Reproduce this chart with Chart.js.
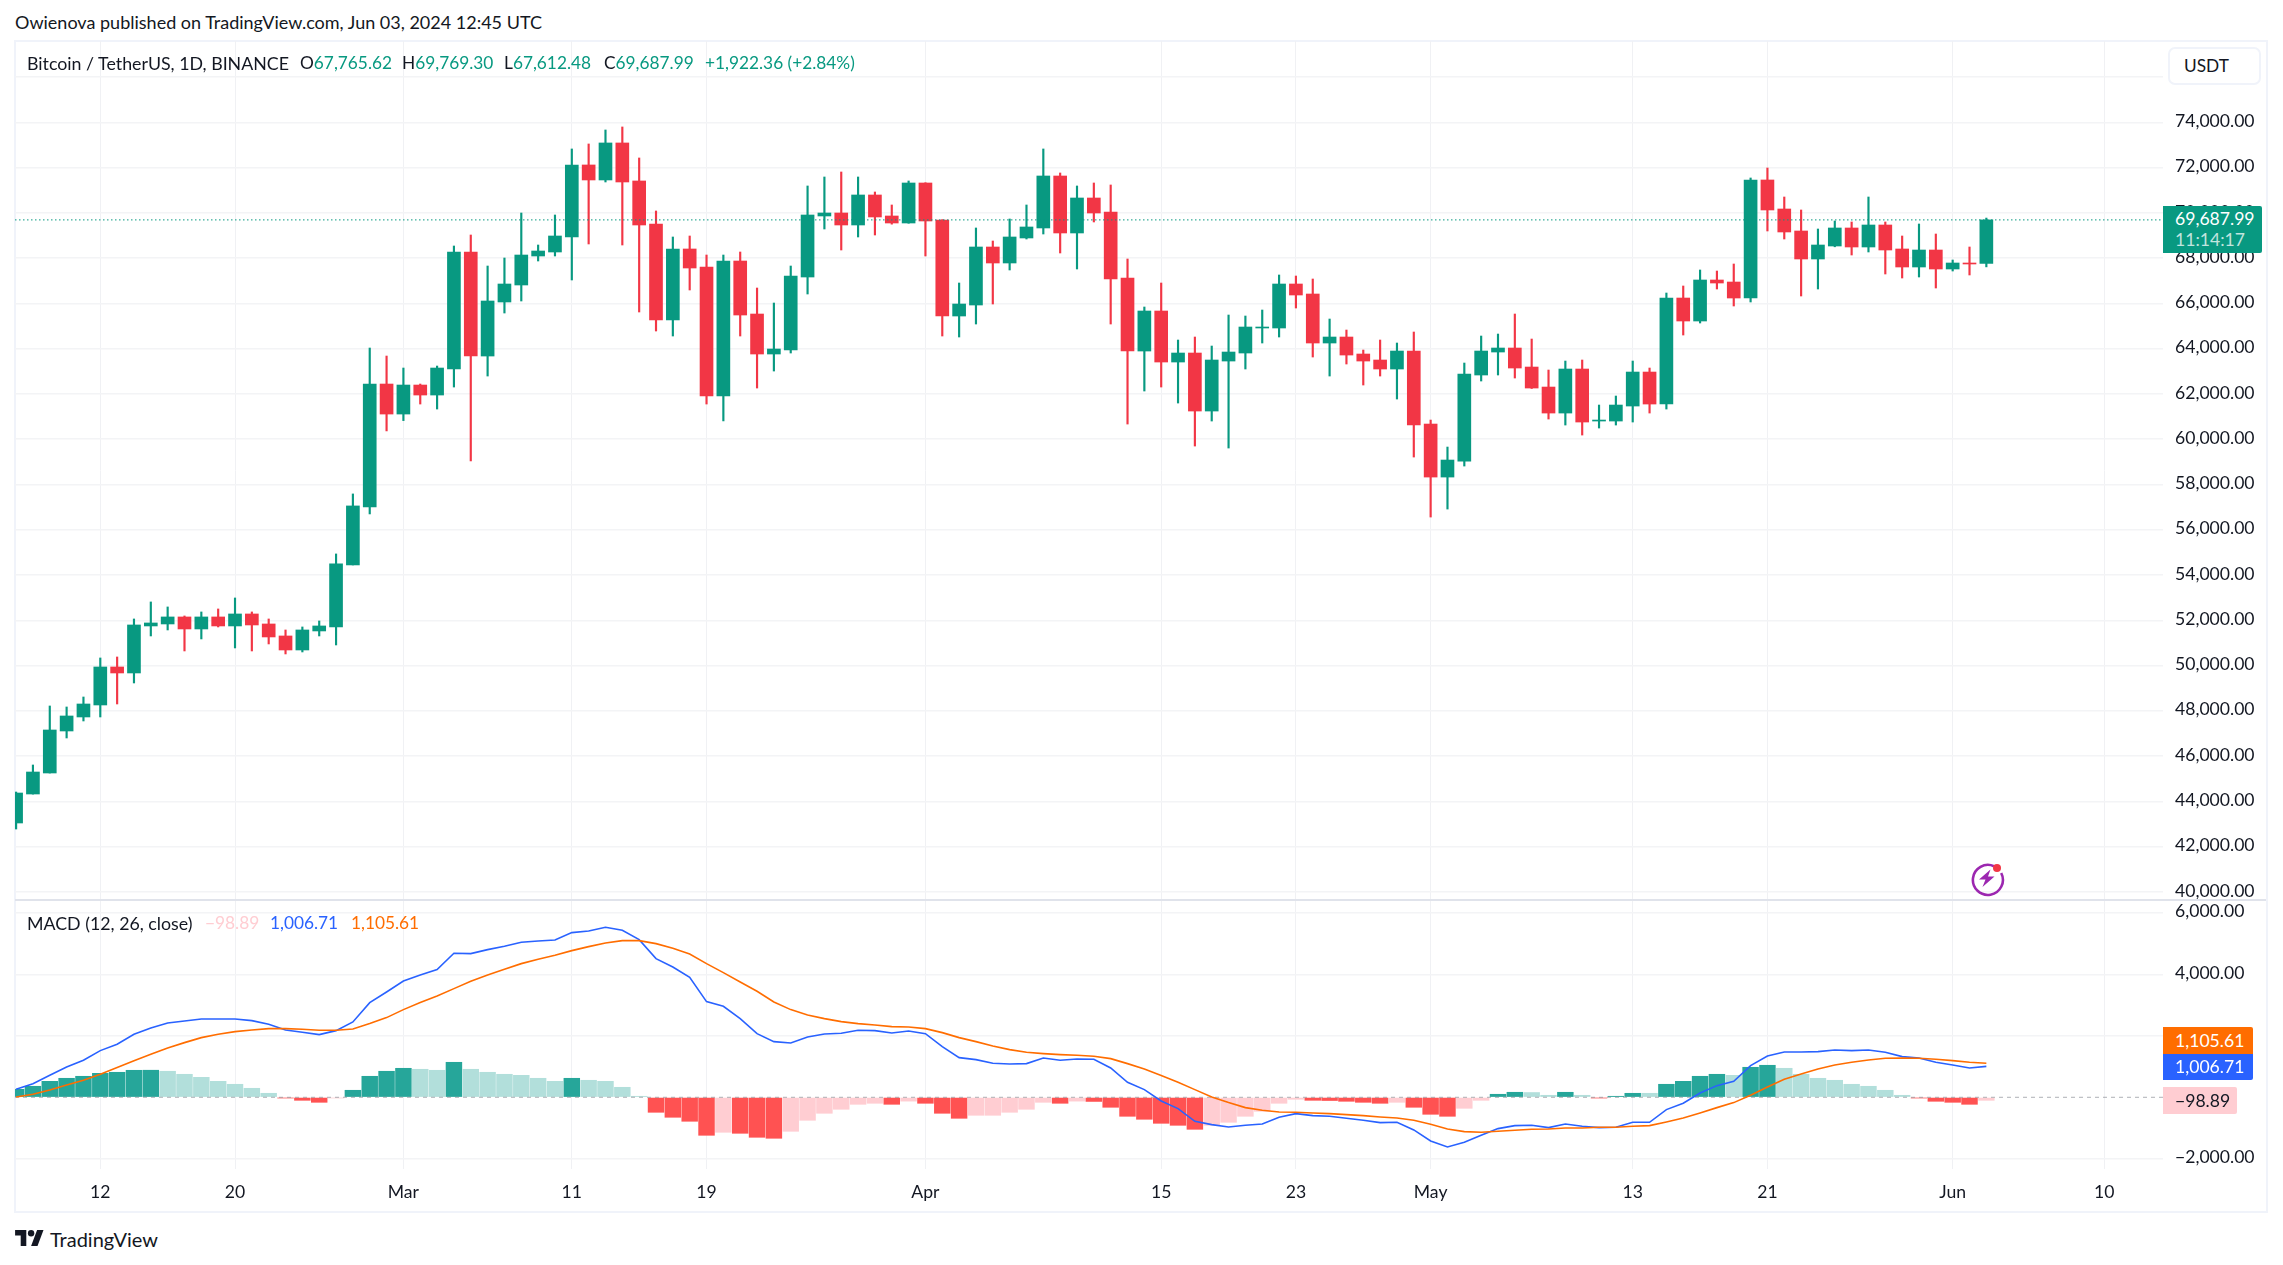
<!DOCTYPE html>
<html>
<head>
<meta charset="utf-8">
<title>Bitcoin / TetherUS</title>
<script src="https://cdn.jsdelivr.net/npm/chart.js@4"></script>
<style>
html, body { margin: 0; padding: 0; background: #fff; }
body { width: 2283px; height: 1265px; position: relative; overflow: hidden; font-family: Lato, "Noto Sans", sans-serif; color: #131722; }
canvas { position: absolute; left: 15px; }
.t { position: absolute; white-space: nowrap; font-size: 17.3px; line-height: 20px; }
.box { position: absolute; left: 2163px; box-sizing: border-box; padding-left: 12px; font-size: 17.6px; color: #fff; border-radius: 0 2px 2px 0; }
.up { color: #089981; }
</style>
</head>
<body>
<div style="position:absolute;left:14px;top:40px;width:2250px;height:1169px;border:2px solid #f0f3fa;"></div>
<canvas id="priceChart" width="2252" height="859" style="top:41px"></canvas>
<canvas id="macdChart" width="2252" height="312" style="top:900px"></canvas>
<div style="position:absolute;left:15px;top:899px;width:2251px;height:2px;background:#e0e3eb;"></div>

<div class="t" style="left:15px;top:12px;font-size:18px">Owienova published on TradingView.com, Jun 03, 2024 12:45 UTC</div>

<div class="t" style="left:27px;top:53px;font-size:17.8px">Bitcoin / TetherUS, 1D, BINANCE</div>
<div class="t" style="left:300px;top:53px">O<span class="up">67,765.62</span></div>
<div class="t" style="left:402px;top:53px">H<span class="up">69,769.30</span></div>
<div class="t" style="left:504px;top:53px">L<span class="up">67,612.48</span></div>
<div class="t" style="left:604px;top:53px">C<span class="up">69,687.99</span></div>
<div class="t up" style="left:705px;top:53px">+1,922.36 (+2.84%)</div>

<div style="position:absolute;left:2168px;top:47px;width:93px;height:38px;box-sizing:border-box;border:2px solid #f0f3fa;border-radius:7px;background:#fff;"></div>
<div class="t" style="left:2184px;top:56px">USDT</div>

<div class="box" style="top:206px;width:99px;height:47px;background:#089981;">
  <div style="line-height:20px;margin-top:3px">69,687.99</div>
  <div style="line-height:20px;margin-top:1px;color:rgba(255,255,255,.75)">11:14:17</div>
</div>

<svg style="position:absolute;left:1968px;top:859px" width="38" height="38" viewBox="0 0 38 38">
  <path d="M26 7.2A15 15 0 1 0 33.2 14" fill="none" stroke="#9c27b0" stroke-width="2.6"/>
  <path d="M22.5 10.5L11 20.5h6.5l-3 7.5 12-10.5h-6.5z" fill="#9c27b0"/>
  <circle cx="29" cy="9" r="4" fill="#f23645"/>
</svg>

<div class="t" style="left:27px;top:913px;font-size:17.8px">MACD (12, 26, close)</div>
<div class="t" style="left:205px;top:913px;color:#ffcdd2">−98.89</div>
<div class="t" style="left:270px;top:913px;color:#2962ff">1,006.71</div>
<div class="t" style="left:351px;top:913px;color:#ff6d00">1,105.61</div>

<div class="box" style="top:1027px;width:90px;height:27px;line-height:27px;background:#ff6d00;border-radius:0 2px 0 0;">1,105.61</div>
<div class="box" style="top:1054px;width:90px;height:26px;line-height:26px;background:#2962ff;border-radius:0 0 2px 0;">1,006.71</div>
<div class="box" style="top:1087px;width:74px;height:27px;line-height:27px;background:#ffcdd2;color:#131722;">−98.89</div>

<svg style="position:absolute;left:15px;top:1230px" width="29" height="16" viewBox="0 0 36 20">
  <path d="M14 20H7V7H0V0h14v20zM28 20h-8L27.5 0h8L28 20z" fill="#131722"/>
  <circle cx="20" cy="4" r="4" fill="#131722"/>
</svg>
<div class="t" style="left:50px;top:1228px;font-size:20px;line-height:22px">TradingView</div>

<script>
// daily candles, Feb 7 .. Jun 3 2024
const opens = [
  43043,44324,45252,47108,47727,48257,49936,49671,51748,51836,52146,51615,52146,51748,52278,51836,51306,50687,51527,51704,54444,57007,62437,
  61111,62393,61951,63100,68270,63674,66061,66812,68093,68270,68933,72115,71452,73087,71408,69507,65265,68403,67607,61907,67872,65530,63763,63939,67165,69861,69993,69463,70789,69861,69551,
  71319,69684,65442,65928,68491,67784,68889,69331,71628,69110,70656,70038,67121,63895,65663,63409,63807,61244,63453,63807,64912,64912,66856,66414,64249,64514,63763,63498,63100,63895,
  60669,58327,59034,62835,63851,64028,63188,62304,61155,63100,60802,60802,61465,62967,61553,66237,65221,67033,66944,66237,71452,70170,69198,67961,68535,69331,68491,69463,68403,67607,68358,
  67519,67784,67765.62
];
const highs = [
  44412,45606,48213,48169,48610,50334,50378,52057,52809,52588,52190,52367,52499,52985,52367,52057,51571,51704,51969,54930,57581,64028,63674,
  63144,62437,63232,68535,69021,67651,68005,69993,68579,69905,72822,73043,73661,73794,72424,70082,68933,68977,68137,68137,68270,66679,66016,67651,71187,71584,71805,71584,70921,70347,71408,
  71330,69700,66900,69331,68756,69728,70347,72822,71761,71187,71319,71231,67961,65840,66900,64381,64514,64116,65486,65442,65707,67254,67209,67077,65309,64823,63939,64381,64249,64735,
  60846,59653,63365,64558,64646,65530,64425,63056,63453,63498,61509,61907,63453,63144,66458,66768,67475,67430,67740,71540,71982,70700,70126,69286,69640,69596,70700,69596,68977,69507,69065,
  67916,68491,69769.30
];
const lows = [
  42777,44320,45250,46799,47550,47727,48301,49229,51306,51571,50643,51174,51704,50776,50643,50953,50511,50599,51306,50908,54444,56697,60365,
  60821,61553,61332,62304,59039,62790,65574,66105,67872,68093,67033,68624,71363,68579,65619,64779,64558,66591,61553,60807,64558,62260,63011,63807,66414,69286,68358,68933,69021,69500,69540,
  68093,64558,64514,65088,65972,67475,68844,69065,68226,67519,69596,65088,60669,62128,62304,61597,59697,60802,59609,63100,64249,64514,65795,63630,62790,63321,62393,62790,61774,59211,
  56560,56913,58813,62570,62835,62702,62240,60890,60625,60183,60493,60625,60758,61155,61332,64602,65133,66635,65884,66061,69198,68844,66326,66635,68500,68137,68270,67298,67121,67165,66679,
  67430,67254,67612.48
];
const closes = [
  44368,45296,47152,47771,48301,49936,49671,51792,51881,52146,51615,52146,51748,52278,51792,51262,50687,51571,51748,54488,57051,62437,61111,
  62393,61951,63144,68270,63674,66105,66856,68137,68314,68977,72115,71452,73087,71363,69463,65265,68403,67563,61907,67872,65486,63763,63984,67209,69905,69993,69463,70789,69817,69551,71319,
  69640,65442,65972,68491,67784,68933,69375,71628,69110,70656,69993,67077,63895,65663,63409,63807,61244,63498,63851,64956,64956,66856,66370,64249,64514,63718,63453,63100,63895,60625,
  58327,59079,62879,63895,64028,63144,62260,61155,63100,60758,60846,61509,62967,61553,66237,65221,67033,66900,66237,71452,70126,69154,67961,68579,69331,68491,69463,68358,67607,68358,67519,
  67784,67740,69687.99
];

const macdLine = [
  260,444,715,986,1203,1518,1724,2049,2255,2417,
  2482,2547,2547,2547,2493,2374,2190,2114,2038,2168,
  2450,3079,3425,3783,3978,4152,4683,4672,4802,4911,
  5041,5084,5116,5355,5409,5528,5431,5127,4509,4238,
  3902,3111,2959,2558,2070,1810,1767,1962,2060,2081,
  2179,2168,2092,2157,2070,1648,1290,1225,1106,1084,
  1095,1279,1203,1247,1236,954,488,249,-119,-369,
  -780,-889,-965,-911,-867,-650,-531,-596,-618,-683,
  -748,-824,-813,-1062,-1420,-1615,-1463,-1236,-1019,-921,
  -911,-986,-867,-943,-986,-976,-813,-813,-401,-195,
  141,379,520,1030,1344,1474,1474,1485,1539,1518,
  1539,1463,1322,1279,1138,1051,954,1006.71
];
const signalLine = [
  11,98,238,401,553,748,965,1192,1398,1604,
  1778,1940,2049,2135,2190,2233,2233,2211,2179,2179,
  2222,2396,2591,2851,3079,3295,3534,3772,3978,4163,
  4347,4488,4618,4770,4900,5019,5095,5095,4997,4845,
  4661,4347,4054,3751,3447,3100,2851,2677,2558,2461,
  2396,2352,2298,2287,2233,2103,1940,1810,1669,1550,
  1463,1420,1388,1366,1333,1257,1095,921,705,488,
  249,11,-173,-336,-423,-477,-488,-509,-531,-564,
  -596,-640,-672,-748,-878,-1030,-1117,-1138,-1106,-1073,
  -1041,-1030,-997,-997,-976,-976,-943,-921,-802,-672,
  -509,-336,-173,65,336,585,759,921,1051,1138,
  1214,1268,1279,1268,1236,1192,1138,1105.61
];
const histogram = [
  260,358,520,618,683,780,813,878,880,846,
  748,650,520,423,293,130,-22,-98,-163,-22,
  228,683,846,943,911,878,1138,911,813,748,
  715,618,520,618,553,520,325,33,-488,-650,
  -780,-1236,-1138,-1171,-1301,-1333,-1106,-748,-520,-390,
  -228,-195,-228,-125,-195,-520,-683,-585,-585,-488,
  -390,-163,-195,-125,-135,-325,-618,-715,-846,-911,
  -1041,-911,-813,-618,-455,-195,-65,-98,-105,-130,
  -163,-195,-163,-325,-553,-618,-358,-98,98,163,
  155,65,163,65,-22,33,130,130,423,520,
  683,748,715,976,1041,943,748,618,553,423,
  358,228,65,-22,-130,-163,-228,-98.89
];

// time axis: day number since Feb 7 and its label
const timeTickDays = [5, 13, 23, 33, 41, 54, 68, 76, 84, 96, 104, 115, 124];
const timeTickLabels = ['12', '20', 'Mar', '11', '19', 'Apr', '15', '23', 'May', '13', '21', 'Jun', '10'];
const priceTicks = [76000, 74000, 72000, 70000, 68000, 66000, 64000, 62000, 60000, 58000, 56000, 54000, 52000, 50000, 48000, 46000, 44000, 42000, 40000];
const macdTicks = [6000, 4000, 2000, 0, -2000];
const lastPrice = 69687.99;

const UP = '#089981', DOWN = '#f23645';
const FONT = { family: 'Lato, "Noto Sans", sans-serif', size: 17.6 };
const X_MIN = -0.065, X_MAX = 127.49;

const candleColors = closes.map((c, i) => c >= opens[i] ? UP : DOWN);

// macd histogram colour: strong when moving away from zero, pale when coming back
const histColors = histogram.map((v, i) => {
    const prev = i ? histogram[i - 1] : -Infinity;
    if (v >= 0) return v > prev ? '#26a69a' : '#b2dfdb';
    return v < prev ? '#ff5252' : '#ffcdd2';
});

const fmt = v => {
    const s = Math.abs(v).toLocaleString('en-US', { minimumFractionDigits: 2, maximumFractionDigits: 2 });
    return (v < 0 ? '−' : '') + s;
};

function timeAxis(showLabels) {
    return {
        type: 'linear',
        offset: false,
        min: X_MIN,
        max: X_MAX,
        afterBuildTicks: s => { s.ticks = timeTickDays.map(d => ({ value: d })); },
        afterFit: s => {
            s.height = showLabels ? 43 : 0;
            s.paddingLeft = 0;
            s.paddingRight = 0;
        },
        grid: { offset: false, color: '#f0f1f4', lineWidth: 1, drawTicks: false },
        border: { display: false },
        ticks: {
            display: showLabels,
            autoSkip: false,
            maxRotation: 0,
            padding: 13,
            color: '#131722',
            font: FONT,
            callback: function(value) { return timeTickLabels[timeTickDays.indexOf(value)]; }
        }
    };
}

function valueAxis(min, max, values, hidden) {
    return {
        type: 'linear',
        position: 'right',
        min: min,
        max: max,
        afterBuildTicks: s => { s.ticks = values.map(v => ({ value: v })); },
        afterFit: s => {
            s.width = 104;
            s.paddingTop = 0;
            s.paddingBottom = 0;
        },
        grid: {
            color: c => c.tick && c.tick.value === 0 ? 'transparent' : '#f3f4f6',
            lineWidth: 1.5,
            drawTicks: false
        },
        border: { display: false },
        ticks: {
            autoSkip: false,
            padding: 12,
            labelOffset: -1,
            color: '#131722',
            font: FONT,
            callback: v => hidden.includes(v) ? '' : fmt(v)
        }
    };
}

const baseOptions = {
    responsive: false,
    animation: false,
    maintainAspectRatio: false,
    layout: { padding: 0 },
    plugins: { legend: { display: false }, tooltip: { enabled: false } }
};

new Chart(document.getElementById('priceChart'), {
    type: 'bar',
    data: {
        datasets: [
            {
                data: lows.map((l, i) => ({ x: i, y: [l, highs[i]] })),
                backgroundColor: candleColors,
                barThickness: 1.5,
                grouped: false,
                order: 3
            },
            {
                data: opens.map((o, i) => ({ x: i, y: [o, closes[i]] })),
                backgroundColor: candleColors,
                barThickness: 13,
                grouped: false,
                order: 2
            },
            {
                type: 'line',
                data: [{ x: X_MIN, y: lastPrice }, { x: X_MAX, y: lastPrice }],
                borderColor: UP,
                borderWidth: 1,
                borderDash: [1.5, 2.5],
                pointRadius: 0,
                order: 1
            }
        ]
    },
    options: {
        ...baseOptions,
        scales: {
            x: timeAxis(false),
            y: valueAxis(39641, 77592, priceTicks, [76000])
        }
    }
});

new Chart(document.getElementById('macdChart'), {
    type: 'bar',
    data: {
        datasets: [
            {
                data: histogram.map((v, i) => ({ x: i, y: v })),
                backgroundColor: histColors,
                barThickness: 15.8,
                grouped: false,
                order: 4
            },
            {
                type: 'line',
                data: [{ x: X_MIN, y: 0 }, { x: X_MAX, y: 0 }],
                borderColor: 'rgba(120,123,134,0.6)',
                borderWidth: 1,
                borderDash: [4, 4],
                pointRadius: 0,
                order: 3
            },
            {
                type: 'line',
                data: macdLine.map((v, i) => ({ x: i, y: v })),
                borderColor: '#2962ff',
                borderWidth: 1.6,
                pointRadius: 0,
                tension: 0,
                order: 2
            },
            {
                type: 'line',
                data: signalLine.map((v, i) => ({ x: i, y: v })),
                borderColor: '#ff6d00',
                borderWidth: 1.6,
                pointRadius: 0,
                tension: 0,
                order: 1
            }
        ]
    },
    options: {
        ...baseOptions,
        scales: {
            x: timeAxis(true),
            y: valueAxis(-2332, 6416, macdTicks, [2000, 0])
        }
    }
});
</script>
</body>
</html>
